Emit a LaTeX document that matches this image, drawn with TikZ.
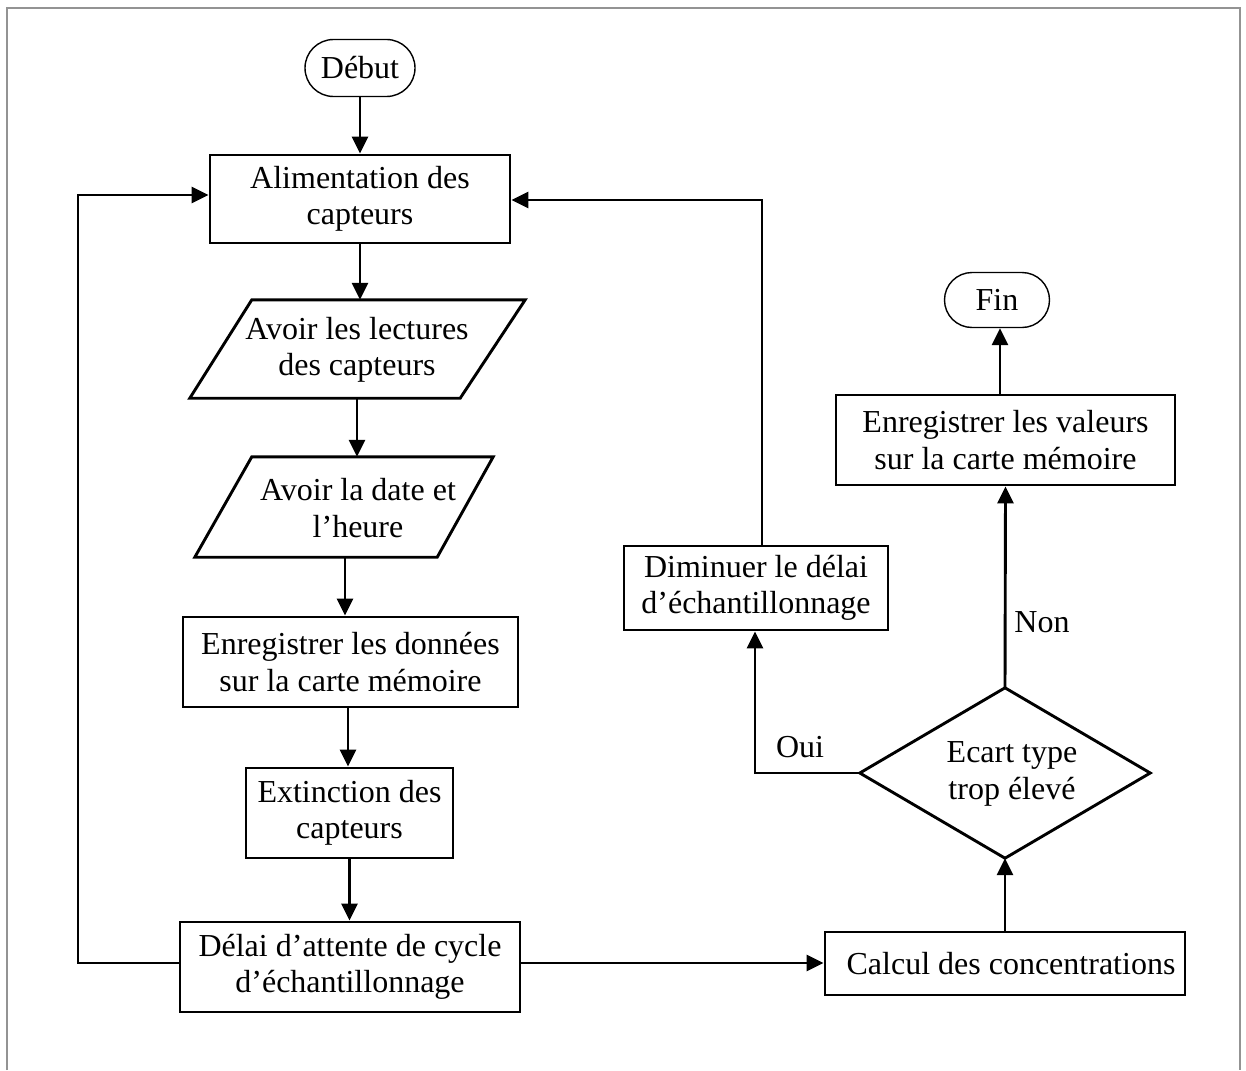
\documentclass[tikz,border=0pt]{standalone}
\usepackage{fontspec}
\setmainfont{Liberation Serif}
\usetikzlibrary{arrows.meta,shapes.misc,calc}

\begin{document}
\begin{tikzpicture}[x=1pt,y=-1pt,
  every node/.style={font=\fontsize{32}{36.5}\selectfont, align=center, inner sep=0pt},
  stepbox/.style={draw, line width=2.9pt, rectangle},
  term/.style={draw, line width=1.4pt, rounded rectangle},
  ghost/.style={draw=none, rectangle},
  outline/.style={line width=2.9pt, line join=miter},
  arr/.style={line width=2.9pt, -{Triangle[length=17pt,width=16pt]}},
  frameline/.style={draw=gray!85, line width=1.8pt},
  lbl/.style={font=\fontsize{32}{36.5}\selectfont}]

\useasboundingbox (0,0) rectangle (1246,1070);
% page frame, open at the bottom
\draw[frameline] (7,1070) -- (7,8) -- (1240,8) -- (1240,1070);

% terminals
\node[term, minimum width=110pt, minimum height=57pt] (debut) at (360,68) {Début};
\node[term, minimum width=105pt, minimum height=55pt] (fin) at (997,300) {Fin};

% left column
\node[stepbox, minimum width=300pt, minimum height=88pt] (alim) at (360,199)
  {Alimentation des\\capteurs};

\node[ghost, minimum width=335pt, minimum height=98pt] (p1) at (357.5,349) {};
\draw[outline] ($(p1.north west)+(62,0)$) -- (p1.north east)
  -- ($(p1.south east)+(-65,0)$) -- (p1.south west) -- cycle;
\node (t1) at (357,350) {Avoir les lectures\\des capteurs};

\node[ghost, minimum width=298pt, minimum height=100pt] (p2) at (344,507) {};
\draw[outline] ($(p2.north west)+(57,0)$) -- (p2.north east)
  -- ($(p2.south east)+(-56,0)$) -- (p2.south west) -- cycle;
\node (t2) at (358,508) {Avoir la date et\\l’heure};

\node[stepbox, minimum width=335pt, minimum height=90pt] (enreg) at (350.5,662)
  {Enregistrer les données\\sur la carte mémoire};
\node[stepbox, minimum width=207pt, minimum height=90pt] (ext) at (349.5,813)
  {Extinction des\\capteurs};
\node[stepbox, minimum width=340pt, minimum height=90pt] (delai) at (350,967)
  {Délai d’attente de cycle\\d’échantillonnage};

% right part
\node[stepbox, minimum width=360pt, minimum height=63pt] (calc) at (1005,963.5)
  {\hspace*{12pt}Calcul des concentrations};
\node[ghost, minimum width=290pt, minimum height=170pt] (dec) at (1005,773) {};
\draw[outline] (dec.west) -- (dec.north) -- (dec.east) -- (dec.south) -- cycle;
\node (dect) at (1012,774) {Ecart type\\trop élevé};

\node[stepbox, minimum width=264pt, minimum height=84pt] (dim) at (756,588)
  {Diminuer le délai\\d’échantillonnage};
\node[stepbox, minimum width=339pt, minimum height=90pt] (enregv) at (1005.5,440)
  {Enregistrer les valeurs\\sur la carte mémoire};

% main flow
\draw[arr] (debut.south) -- (alim.north);
\draw[arr] (alim.south) -- (alim.south |- p1.north);
\draw[arr] (t1 |- p1.south) -- (t1 |- p2.north);
\draw[arr] (345,0 |- p2.south) -- (345,0 |- enreg.north);
\draw[arr] (348,0 |- enreg.south) -- (348,0 |- ext.north);
\draw[arr] (ext.south) -- (ext.south |- delai.north);

% back loop to the sensors
\coordinate (lc) at (78,963);
\draw[arr] (delai.west |- lc) -- (lc) -- (lc |- 0,195) -- (alim.west |- 0,195);

% to the computation
\draw[arr] (delai.east |- lc) -- (calc.west |- lc);
\draw[arr] (calc.north) -- (dec.south);

% decision branches
\coordinate (oc) at (755,773);
\draw[arr] (dec.west) -- (oc) -- (oc |- dim.south);
\node[lbl] (oui) at (800,747) {Oui};
\draw[arr] (dec.north) -- (enregv.south);
\node[lbl] (non) at (1042,622) {Non};

\coordinate (dc) at (762,200);
\draw[arr] (dc |- dim.north) -- (dc) -- (alim.east |- dc);
\draw[arr] (1000,0 |- enregv.north) -- (1000,0 |- fin.south);
\end{tikzpicture}
\end{document}
